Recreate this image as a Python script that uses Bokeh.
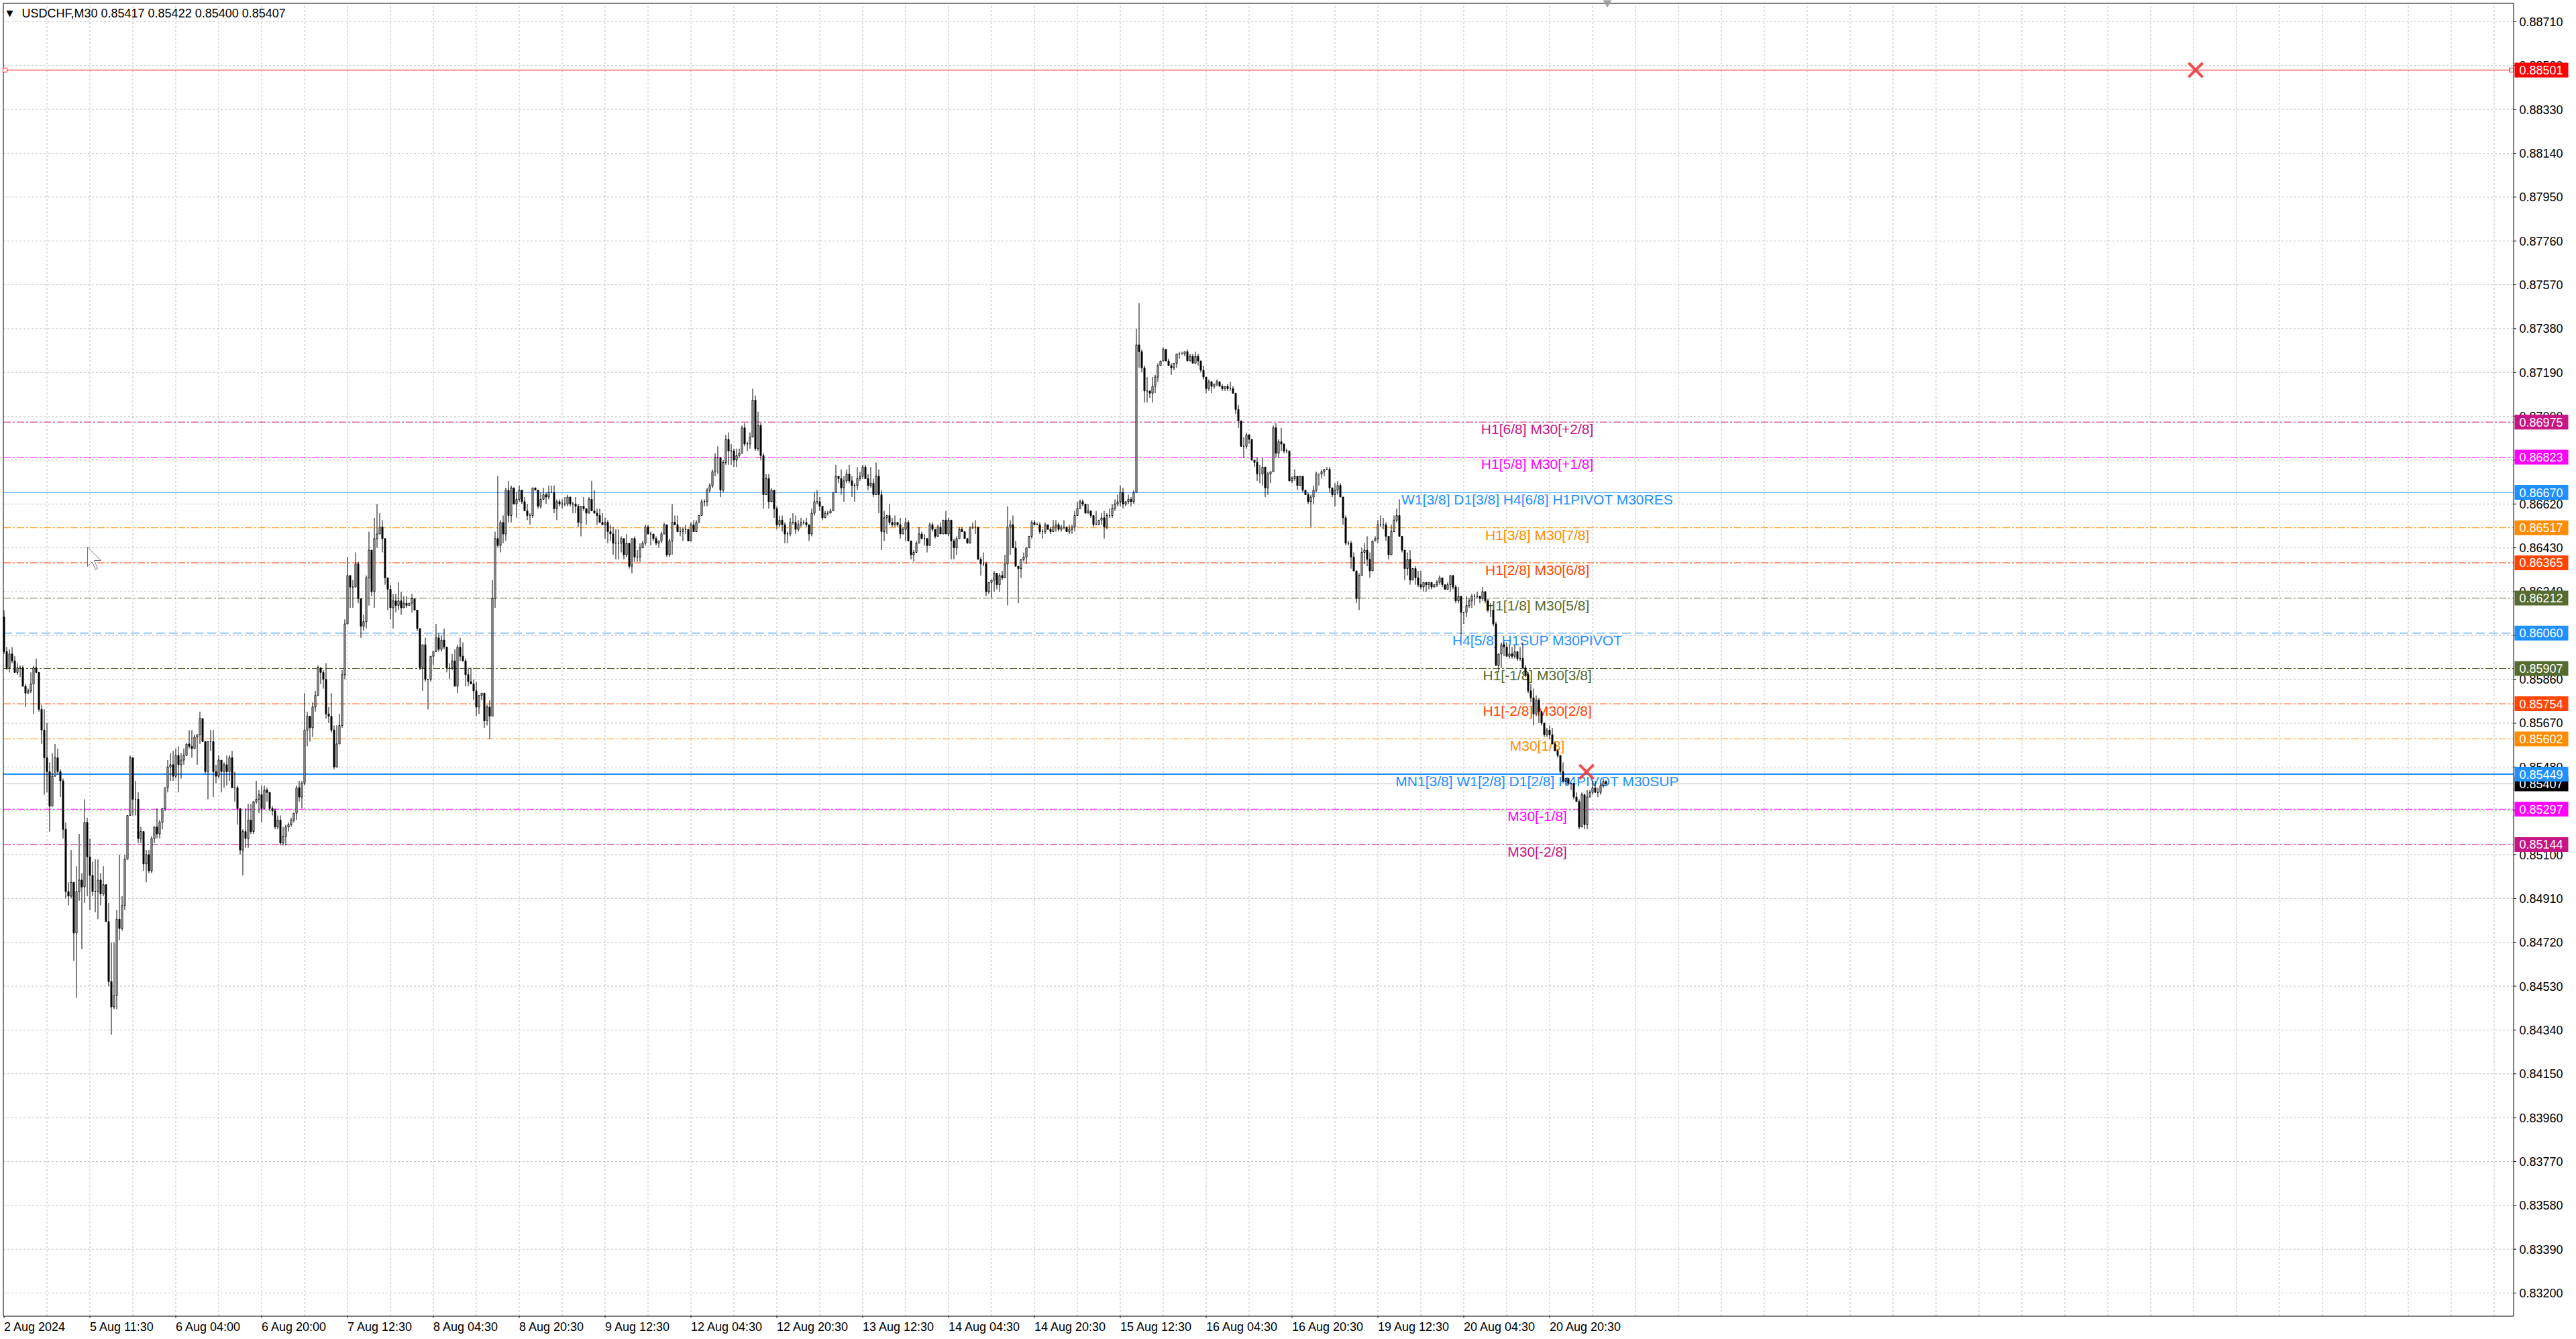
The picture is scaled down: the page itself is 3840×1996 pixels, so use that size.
from bokeh.plotting import figure
from bokeh.models import Range1d, ColumnDataSource
from bokeh.core.properties import value
from bokeh.embed import file_html
from bokeh.resources import INLINE

# ---------------- data ----------------
title_text = "USDCHF,M30  0.85417 0.85422 0.85400 0.85407"

first_open_pips = 8613
close_pips = [
8598,8591,8597,8594,8589,8591,8591,8583,8580,8581,
8584,8591,8589,8573,8564,8552,8546,8531,8544,8552,
8546,8542,8521,8494,8492,8498,8476,8494,8499,8496,
8524,8509,8501,8494,8494,8499,8493,8497,8481,8455,
8444,8449,8482,8478,8488,8508,8527,8552,8534,8534,
8517,8520,8506,8510,8503,8517,8522,8519,8524,8530,
8539,8548,8549,8544,8553,8549,8551,8553,8558,8557,
8556,8561,8562,8569,8559,8546,8559,8559,8546,8544,
8551,8546,8549,8546,8552,8539,8539,8530,8512,8520,
8517,8525,8520,8533,8534,8536,8530,8538,8537,8530,
8529,8522,8525,8515,8518,8522,8523,8525,8528,8539,
8535,8541,8564,8570,8565,8574,8579,8591,8589,8586,
8571,8570,8564,8548,8558,8566,8588,8610,8631,8626,
8626,8636,8621,8609,8611,8630,8642,8624,8647,8649,
8652,8647,8630,8625,8617,8620,8618,8620,8617,8619,
8618,8619,8621,8616,8608,8591,8601,8586,8586,8596,
8598,8604,8599,8603,8600,8591,8591,8594,8583,8600,
8596,8594,8588,8585,8584,8581,8574,8579,8580,8568,
8574,8570,8621,8647,8644,8654,8649,8668,8657,8669,
8662,8664,8668,8663,8659,8657,8657,8669,8668,8661,
8664,8666,8665,8667,8667,8660,8663,8662,8662,8662,
8665,8662,8662,8661,8654,8661,8660,8658,8664,8659,
8658,8657,8654,8653,8654,8650,8649,8645,8645,8645,
8647,8640,8645,8635,8647,8639,8639,8643,8645,8652,
8649,8649,8647,8645,8646,8649,8653,8640,8646,8654,
8653,8650,8650,8651,8651,8646,8653,8650,8654,8657,
8663,8663,8668,8670,8676,8682,8682,8668,8680,8690,
8685,8685,8681,8683,8684,8695,8688,8688,8691,8707,
8686,8696,8683,8666,8673,8663,8668,8660,8653,8655,
8653,8649,8649,8654,8654,8651,8653,8654,8654,8653,
8649,8658,8663,8663,8661,8656,8658,8658,8659,8667,
8674,8673,8669,8672,8675,8672,8670,8670,8673,8674,
8678,8673,8670,8671,8666,8674,8666,8650,8656,8657,
8654,8653,8654,8653,8649,8651,8654,8646,8640,8641,
8645,8649,8647,8647,8644,8653,8651,8648,8652,8649,
8655,8649,8655,8646,8643,8647,8651,8650,8647,8645,
8652,8652,8652,8638,8636,8636,8624,8628,8629,8632,
8627,8631,8630,8636,8652,8653,8643,8635,8634,8638,
8639,8643,8648,8654,8653,8653,8650,8650,8653,8651,
8650,8652,8653,8651,8652,8652,8650,8651,8652,8657,
8660,8663,8662,8658,8659,8657,8653,8653,8655,8656,
8652,8657,8657,8660,8662,8663,8667,8662,8663,8664,
8663,8667,8731,8728,8721,8711,8711,8710,8713,8717,
8722,8724,8729,8724,8722,8721,8723,8727,8727,8727,
8728,8724,8726,8723,8726,8724,8720,8717,8712,8715,
8713,8714,8715,8713,8712,8713,8712,8712,8710,8703,
8698,8687,8687,8692,8690,8681,8680,8675,8675,8678,
8669,8675,8676,8695,8684,8689,8688,8685,8685,8672,
8673,8674,8670,8674,8668,8666,8663,8665,8668,8675,
8675,8676,8677,8677,8669,8666,8668,8670,8665,8656,
8645,8645,8639,8633,8621,8631,8641,8642,8638,8633,
8646,8647,8653,8653,8653,8648,8640,8650,8655,8657,
8648,8642,8634,8638,8629,8634,8630,8627,8626,8628,
8627,8628,8626,8627,8628,8630,8627,8625,8627,8631,
8626,8620,8622,8615,8615,8618,8620,8622,8622,8622,
8621,8624,8620,8616,8616,8610,8592,8597,8601,8600,
8596,8597,8596,8598,8595,8595,8591,8588,8581,8578,
8571,8577,8572,8567,8562,8564,8562,8558,8555,8553,
8546,8542,8543,8541,8541,8535,8533,8522,8536,8523,
8535,8537,8539,8537,8537,8540,8541.7,8540.7]

high_pips = [
8616,8600,8599,8600,8596,8593,8592,8592,8584,8582,
8589,8592,8595,8589,8575,8573,8567,8550,8554,8558,
8556,8547,8543,8524,8498,8512,8498,8505,8519,8502,
8534,8526,8517,8507,8508,8508,8502,8505,8497,8489,
8472,8472,8486,8510,8492,8510,8527,8553,8552,8542,
8537,8522,8520,8512,8512,8518,8522,8530,8525,8530,
8539,8551,8554,8555,8556,8557,8554,8556,8558,8564,
8564,8562,8562,8572,8569,8559,8559,8564,8564,8549,
8553,8551,8550,8553,8553,8555,8546,8540,8530,8521,
8530,8532,8532,8533,8542,8538,8540,8540,8539,8537,
8531,8530,8527,8527,8522,8523,8524,8526,8528,8540,
8542,8542,8580,8572,8569,8576,8581,8592,8591,8590,
8593,8574,8580,8566,8566,8571,8590,8612,8639,8631,
8629,8641,8637,8620,8614,8631,8650,8642,8656,8662,
8658,8655,8647,8630,8627,8623,8623,8628,8624,8622,
8622,8619,8623,8620,8616,8608,8601,8604,8586,8596,
8598,8610,8606,8605,8608,8600,8593,8597,8599,8601,
8604,8602,8595,8591,8591,8586,8585,8579,8580,8580,
8575,8577,8629,8650,8674,8655,8657,8669,8672,8670,
8669,8667,8670,8668,8665,8662,8658,8669,8669,8664,
8667,8669,8667,8670,8670,8670,8664,8664,8664,8665,
8666,8665,8663,8665,8662,8661,8665,8660,8665,8672,
8668,8660,8660,8658,8656,8655,8653,8652,8651,8651,
8648,8647,8649,8645,8647,8648,8642,8645,8646,8653,
8653,8650,8649,8648,8646,8650,8654,8650,8647,8662,
8657,8657,8652,8652,8653,8651,8654,8655,8655,8657,
8664,8664,8669,8671,8677,8684,8687,8676,8681,8692,
8693,8688,8686,8686,8686,8696,8697,8689,8693,8712,
8709,8702,8697,8684,8675,8675,8669,8668,8661,8657,
8657,8654,8650,8656,8658,8657,8655,8656,8655,8656,
8653,8660,8667,8668,8665,8661,8659,8659,8660,8667,
8679,8674,8677,8674,8677,8679,8674,8671,8678,8676,
8679,8679,8675,8678,8673,8680,8677,8668,8659,8657,
8662,8656,8657,8654,8656,8652,8656,8655,8646,8642,
8646,8652,8650,8649,8647,8654,8654,8651,8653,8654,
8655,8659,8656,8655,8647,8648,8652,8652,8650,8647,
8652,8654,8655,8651,8639,8641,8637,8628,8629,8633,
8632,8632,8633,8640,8661,8655,8657,8646,8635,8638,
8641,8643,8648,8655,8655,8654,8654,8651,8654,8653,
8652,8655,8655,8654,8653,8655,8652,8653,8653,8659,
8663,8664,8664,8662,8662,8659,8656,8659,8655,8658,
8659,8658,8660,8662,8664,8666,8670,8669,8663,8666,
8665,8668,8738,8749,8729,8722,8717,8711,8717,8718,
8723,8724,8730,8729,8725,8723,8723,8727,8728,8728,
8728,8729,8727,8727,8728,8727,8724,8722,8717,8716,
8715,8714,8716,8715,8714,8713,8714,8715,8713,8710,
8705,8698,8691,8693,8692,8690,8681,8682,8679,8682,
8678,8676,8676,8696,8697,8690,8695,8688,8686,8685,
8674,8677,8674,8674,8674,8668,8667,8666,8670,8676,
8675,8677,8677,8678,8678,8669,8671,8672,8671,8665,
8657,8646,8646,8641,8633,8632,8643,8645,8648,8641,
8646,8648,8655,8657,8656,8654,8648,8653,8657,8660,
8664,8648,8642,8641,8642,8634,8635,8633,8633,8628,
8628,8628,8627,8627,8629,8631,8630,8627,8628,8631,
8631,8627,8626,8621,8615,8622,8621,8623,8623,8624,
8622,8626,8624,8621,8619,8616,8611,8597,8602,8602,
8602,8601,8600,8601,8598,8600,8602,8592,8589,8584,
8582,8579,8578,8572,8567,8565,8566,8565,8559,8556,
8553,8550,8543,8543,8541,8541,8537,8534,8537,8536,
8538,8538,8542,8542,8539,8541,8543,8542.2]

low_pips = [
8597,8590,8589,8593,8589,8588,8587,8583,8574,8580,
8580,8571,8589,8572,8558,8536,8537,8520,8531,8544,
8545,8535,8517,8491,8488,8491,8464,8448,8490,8469,
8489,8492,8486,8492,8485,8482,8488,8492,8481,8453,
8432,8443,8443,8473,8477,8486,8508,8527,8527,8527,
8515,8515,8503,8498,8502,8502,8515,8517,8517,8521,
8529,8537,8542,8542,8543,8537,8543,8549,8553,8556,
8552,8556,8549,8558,8559,8545,8534,8555,8535,8541,
8543,8537,8539,8540,8542,8539,8533,8523,8510,8501,
8513,8513,8519,8519,8532,8528,8524,8530,8533,8529,
8527,8521,8521,8514,8514,8514,8520,8522,8524,8525,
8533,8530,8540,8557,8559,8561,8572,8579,8584,8582,
8569,8567,8563,8547,8548,8558,8565,8586,8610,8617,
8617,8626,8619,8604,8607,8608,8618,8622,8617,8643,
8649,8641,8627,8616,8612,8608,8615,8616,8614,8617,
8617,8618,8615,8616,8607,8590,8581,8585,8573,8585,
8592,8598,8598,8598,8599,8589,8586,8590,8583,8580,
8594,8594,8583,8583,8584,8577,8570,8571,8577,8565,
8566,8560,8570,8617,8643,8641,8645,8646,8654,8654,
8662,8656,8663,8662,8659,8655,8653,8656,8668,8660,
8660,8664,8662,8664,8667,8658,8655,8661,8660,8661,
8661,8661,8658,8658,8652,8648,8659,8653,8658,8659,
8658,8653,8654,8653,8647,8645,8646,8640,8638,8638,
8641,8638,8639,8634,8632,8637,8637,8637,8643,8644,
8649,8644,8646,8644,8643,8645,8649,8639,8639,8640,
8653,8650,8648,8646,8649,8646,8646,8650,8650,8654,
8657,8661,8661,8667,8669,8674,8675,8665,8667,8679,
8679,8679,8678,8678,8682,8684,8687,8685,8686,8691,
8685,8685,8681,8660,8666,8660,8663,8656,8651,8652,
8650,8645,8645,8648,8653,8649,8650,8652,8653,8652,
8646,8648,8657,8662,8659,8655,8656,8657,8658,8659,
8667,8671,8666,8663,8671,8671,8665,8663,8668,8672,
8673,8673,8668,8669,8665,8666,8658,8642,8646,8649,
8653,8652,8652,8652,8647,8649,8646,8646,8638,8637,
8641,8645,8647,8644,8641,8644,8650,8647,8648,8649,
8649,8649,8648,8638,8638,8640,8647,8650,8647,8645,
8646,8651,8649,8638,8631,8635,8622,8623,8621,8624,
8625,8624,8629,8630,8618,8640,8643,8635,8619,8630,
8637,8636,8643,8647,8653,8653,8649,8647,8649,8651,
8649,8651,8650,8650,8650,8651,8650,8649,8649,8650,
8658,8660,8661,8658,8659,8656,8652,8653,8653,8653,
8647,8651,8656,8656,8659,8661,8661,8660,8661,8662,
8661,8662,8667,8721,8719,8706,8706,8708,8706,8710,
8715,8722,8724,8724,8722,8718,8720,8721,8725,8727,
8726,8724,8724,8723,8723,8722,8719,8716,8710,8711,
8710,8712,8713,8713,8711,8711,8711,8711,8710,8701,
8695,8687,8682,8686,8688,8681,8678,8672,8671,8670,
8665,8666,8671,8676,8682,8682,8685,8684,8684,8672,
8671,8672,8668,8670,8667,8666,8662,8652,8662,8667,
8670,8673,8674,8677,8667,8665,8661,8666,8665,8653,
8644,8644,8634,8633,8619,8616,8631,8636,8635,8630,
8633,8646,8645,8652,8651,8646,8638,8640,8650,8654,
8648,8641,8629,8631,8627,8629,8627,8626,8625,8624,
8624,8625,8625,8626,8626,8627,8626,8625,8625,8624,
8625,8619,8619,8605,8610,8613,8617,8617,8618,8621,
8619,8620,8619,8615,8613,8609,8592,8589,8591,8596,
8596,8595,8595,8595,8594,8594,8591,8587,8580,8576,
8566,8570,8567,8566,8561,8561,8560,8558,8555,8552,
8545,8541,8540,8540,8538,8534,8533,8521,8522,8521,
8521,8535,8536,8537,8535,8536,8539,8540.0]

time_labels = ["2 Aug 2024", "5 Aug 11:30", "6 Aug 04:00", "6 Aug 20:00", "7 Aug 12:30",
               "8 Aug 04:30", "8 Aug 20:30", "9 Aug 12:30", "12 Aug 04:30", "12 Aug 20:30",
               "13 Aug 12:30", "14 Aug 04:30", "14 Aug 20:30", "15 Aug 12:30", "16 Aug 04:30",
               "16 Aug 20:30", "19 Aug 12:30", "20 Aug 04:30", "20 Aug 20:30"]
bars_per_label = 32
bars_per_vgrid = 16

price_ticks = [0.88710, 0.88520, 0.88330, 0.88140, 0.87950, 0.87760, 0.87570, 0.87380,
               0.87190, 0.87000, 0.86810, 0.86620, 0.86430, 0.86240, 0.86050, 0.85860,
               0.85670, 0.85480, 0.85290, 0.85100, 0.84910, 0.84720, 0.84530, 0.84340,
               0.84150, 0.83960, 0.83770, 0.83580, 0.83390, 0.83200]

level_prices = [0.86975, 0.86823, 0.86670, 0.86517, 0.86365, 0.86212, 0.86060,
                0.85907, 0.85754, 0.85602, 0.85449, 0.85297, 0.85144]
level_texts = ["H1[6/8] M30[+2/8]", "H1[5/8] M30[+1/8]",
               "W1[3/8] D1[3/8] H4[6/8] H1PIVOT M30RES",
               "H1[3/8] M30[7/8]", "H1[2/8] M30[6/8]", "H1[1/8] M30[5/8]",
               "H4[5/8] H1SUP M30PIVOT", "H1[-1/8] M30[3/8]", "H1[-2/8] M30[2/8]",
               "M30[1/8]", "MN1[3/8] W1[2/8] D1[2/8] H4PIVOT M30SUP",
               "M30[-1/8]", "M30[-2/8]"]
level_colors = ["#C71585", "#FF00FF", "#1E90FF", "#FF8C00", "#FF4500", "#556B2F", "#1E90FF",
                "#556B2F", "#FF4500", "#FF8C00", "#1E90FF", "#FF00FF", "#C71585"]
level_styles = ["dashdot", "dashdot", "solid", "dashdot", "dashdot", "dashdot", "dash",
                "dashdot", "dashdot", "dashdot", "solid", "dashdot", "dashdot"]
level_widths = [1, 1, 1, 1, 1, 1, 1, 1, 1, 1, 2, 1, 1]
level_label_bar = 571.4

alert_price = 0.88501
alert_color = "#FF0000"
bid_price = 0.85407
mark_bar = [589.75, 816.75]
mark_price = [0.85459, 0.88501]

# ---------------- geometry (screen layout, not data) ----------------
W, H = 3832, 1988                 # whole canvas is one frame
PX_PER_BAR = 4.0
PRICE_PER_PX = 2.9077e-5
x_start = -1.375                  # bar i centred at 5.5 + 4 i px
p_top = 0.88710 + 32 * PRICE_PER_PX   # 0.88710 sits 32 px from the top
x_end = x_start + W / PX_PER_BAR
p_bot = p_top - H * PRICE_PER_PX

def px_x(px):
    return x_start + px / PX_PER_BAR

def py_p(py):
    return p_top - py * PRICE_PER_PX

CH_L, CH_R = px_x(4.5), px_x(3746.5)       # chart border
CH_T, CH_B = py_p(4.5), py_p(1961.5)
FONT = "Liberation Sans"
dash_map = {"solid": "solid", "dash": "13 6", "dashdot": "11 3 3 3"}
GRID = "#C0C0C0"

n = min(len(close_pips), len(high_pips), len(low_pips))
closes = [c / 10000.0 for c in close_pips[:n]]
opens = [first_open_pips / 10000.0] + closes[:-1]
highs = [max(h / 10000.0, o, c) for h, o, c in zip(high_pips[:n], opens, closes)]
lows = [min(l / 10000.0, o, c) for l, o, c in zip(low_pips[:n], opens, closes)]
idx = list(range(n))

p = figure(frame_width=W, frame_height=H,
           x_range=Range1d(x_start, x_end), y_range=Range1d(p_bot, p_top),
           output_backend="svg", toolbar_location=None,
           x_axis_location=None, y_axis_location=None,
           min_border_left=0, min_border_top=0, min_border_right=0, min_border_bottom=0,
           background_fill_color="white", border_fill_color="white")
p.outline_line_color = None
p.xgrid.visible = False
p.ygrid.visible = False

# grid
p.segment(x0=[CH_L] * len(price_ticks), y0=price_ticks, x1=[CH_R] * len(price_ticks),
          y1=price_ticks, line_color=GRID, line_dash="3 3", line_width=1)
vg = list(range(bars_per_vgrid, int(CH_R), bars_per_vgrid))
p.segment(x0=vg, y0=[CH_B] * len(vg), x1=vg, y1=[CH_T] * len(vg),
          line_color=GRID, line_dash="3 3", line_width=1)

# level lines
p.segment(x0=[CH_L], y0=[alert_price], x1=[CH_R], y1=[alert_price],
          line_color=alert_color, line_width=1)
for lp, c, st, w in zip(level_prices, level_colors, level_styles, level_widths):
    p.segment(x0=[CH_L], y0=[lp], x1=[CH_R], y1=[lp], line_color=c, line_width=w,
              line_dash=dash_map[st])
p.segment(x0=[CH_L], y0=[bid_price], x1=[CH_R], y1=[bid_price],
          line_color="#C0C0C0", line_width=1)

# level texts
lsrc = ColumnDataSource(dict(x=[level_label_bar] * len(level_prices), y=level_prices,
                             t=level_texts, c=level_colors))
p.text(x="x", y="y", text="t", text_color="c", source=lsrc, text_font=value(FONT),
       text_font_size="21px", text_align="center", text_baseline="top", y_offset=-1)

# candles
body_top = [max(o, c) for o, c in zip(opens, closes)]
body_bot = [min(o, c) for o, c in zip(opens, closes)]
fills = ["white" if c >= o else "black" for o, c in zip(opens, closes)]
csrc = ColumnDataSource(dict(x=idx, h=highs, l=lows, t=body_top, b=body_bot, f=fills))
p.segment(x0="x", y0="l", x1="x", y1="h", source=csrc, line_color="black", line_width=1)
p.vbar(x="x", width=0.5, top="t", bottom="b", source=csrc, fill_color="f",
       line_color="black", line_width=1)

# chart border
p.quad(left=[CH_L], right=[CH_R], top=[CH_T], bottom=[CH_B], fill_color=None,
       line_color="black", line_width=1)

# alert line anchors, markers, shift marker
p.scatter(x=[px_x(7), px_x(3743)], y=[alert_price, alert_price], marker="square",
          size=6, fill_color="white", line_color=alert_color, line_width=1)
p.scatter(x=mark_bar, y=mark_price, marker="x", size=30, line_color="#EE3B3B",
          line_width=4, line_alpha=0.9)
p.scatter(x=[n - 0.5], y=[py_p(3)], marker="inverted_triangle", size=12,
          fill_color="#A0A0A0", line_color="#A0A0A0")

# mouse pointer left on the chart (screen decoration)
cur = [(0, 0), (0, 29), (7, 22), (12, 34), (15, 32), (10, 20), (20, 20)]
p.patch(x=[px_x(130 + dx) for dx, dy in cur], y=[py_p(815 + dy) for dx, dy in cur],
        fill_color="white", line_color="#707070", line_width=1)

# price scale on the right
tick_x1 = px_x(3750.5)
p.segment(x0=[CH_R] * len(price_ticks), y0=price_ticks, x1=[tick_x1] * len(price_ticks),
          y1=price_ticks, line_color="black", line_width=1)
p.text(x=[px_x(3755)] * len(price_ticks), y=price_ticks,
       text=[f"{t:.5f}" for t in price_ticks], text_font=value(FONT),
       text_font_size="18px", text_color="black", text_align="left",
       text_baseline="middle")

# price boxes
box_prices = [alert_price] + level_prices[:10] + [bid_price] + level_prices[10:]
box_colors = [alert_color] + level_colors[:10] + ["black"] + level_colors[10:]
half_box = 11 * PRICE_PER_PX
for bp, bc in zip(box_prices, box_colors):
    p.quad(left=[px_x(3748)], right=[px_x(3828)], top=[bp + half_box],
           bottom=[bp - half_box], fill_color=bc, line_color=None)
    p.text(x=[px_x(3755)], y=[bp], text=[f"{bp:.5f}"], text_font=value(FONT),
           text_font_size="18px", text_color="white", text_align="left",
           text_baseline="middle")

# time scale at the bottom
x_ticks = [i * bars_per_label for i in range(len(time_labels))]
p.segment(x0=x_ticks, y0=[CH_B] * len(x_ticks), x1=x_ticks,
          y1=[py_p(1964)] * len(x_ticks), line_color="black", line_width=1)
p.text(x=x_ticks, y=[py_p(1967)] * len(x_ticks), text=time_labels, text_font=value(FONT),
       text_font_size="18px", text_color="black", text_align="left", text_baseline="top")

# title
p.text(x=[px_x(14)], y=[py_p(19)], text=["\u25BC"], text_font=value("DejaVu Sans"),
       text_font_size="13px", text_color="black", text_align="center",
       text_baseline="middle")
p.text(x=[px_x(32)], y=[py_p(19)], text=[title_text], text_font=value(FONT),
       text_font_size="18px", text_color="black", text_align="left",
       text_baseline="middle")

open("out.html", "w").write(file_html(p, INLINE))
